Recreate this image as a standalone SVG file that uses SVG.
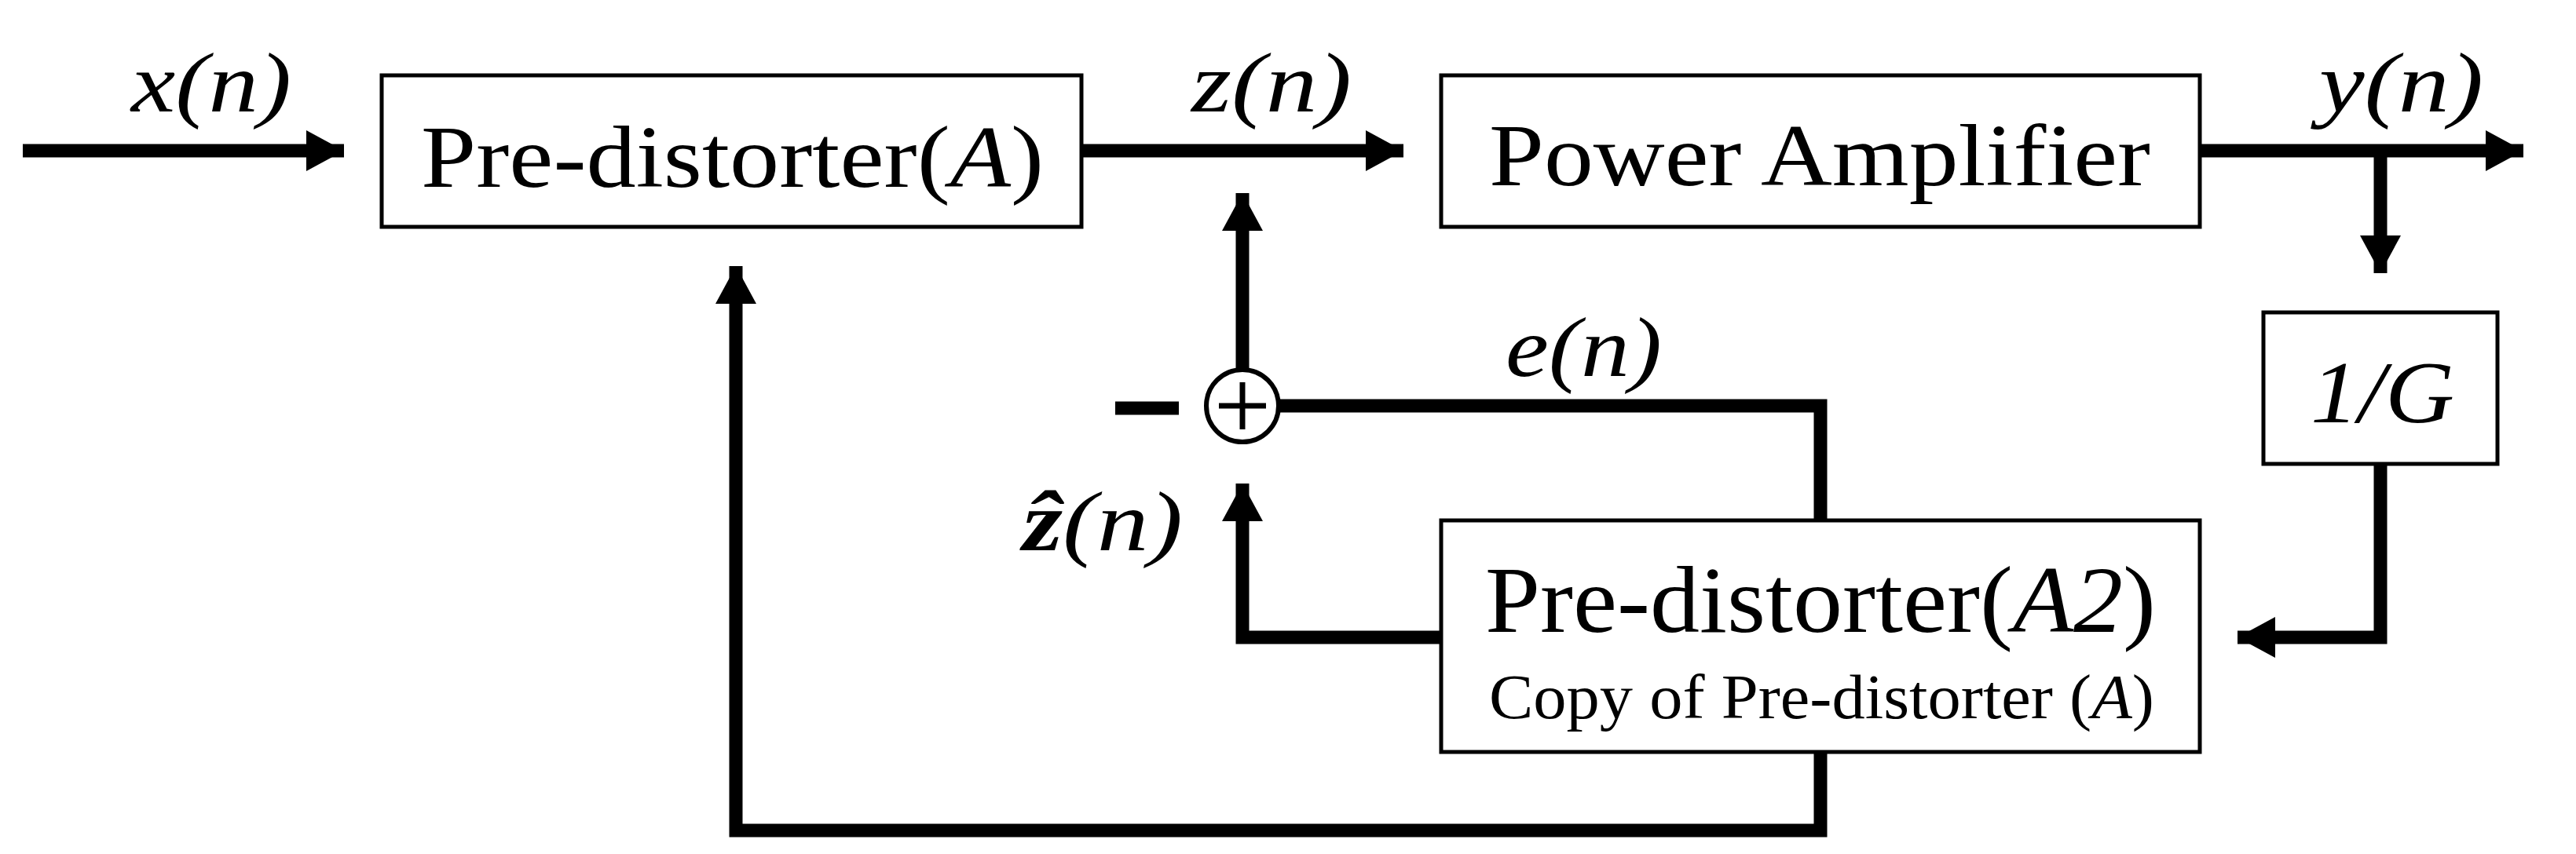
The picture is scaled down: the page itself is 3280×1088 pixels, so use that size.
<svg xmlns="http://www.w3.org/2000/svg" width="3280" height="1088" viewBox="0 0 3280 1088">
<style>
.box{fill:#fff;stroke:#000;stroke-width:5}
.c{fill:none;stroke:#000;stroke-width:17}
.t{font-family:"Liberation Serif","Times New Roman",serif;fill:#000}
.i{font-style:italic}
</style>
<defs>
<marker id="ah" markerUnits="userSpaceOnUse" markerWidth="50" markerHeight="52" refX="48" refY="26" orient="auto"><path d="M0,0 L48,26 L0,52 Z" fill="#000"/></marker>
</defs>
<g id="connectors">
<path class="c" d="M29,192 H438" marker-end="url(#ah)"/>
<path class="c" d="M1377,192 H1787" marker-end="url(#ah)"/>
<path class="c" d="M2801,192 H3213" marker-end="url(#ah)"/>
<path class="c" d="M3031,192 V348" marker-end="url(#ah)"/>
<path class="c" d="M3031,591 V812 H2849" marker-end="url(#ah)"/>
<path class="c" d="M1835,812 H1582 V616" marker-end="url(#ah)"/>
<path class="c" d="M1582,470 V246" marker-end="url(#ah)"/>
<path class="c" d="M2318,663 V517 H1629"/>
<path class="c" d="M2318,958 V1058 H937 V339" marker-end="url(#ah)"/>
<path class="c" d="M1420,520 H1501"/>
</g>
<g id="predistorterA"><rect class="box" x="486" y="96" width="891" height="193"/>
<text class="t" x="536" y="238" font-size="112" textLength="793" lengthAdjust="spacingAndGlyphs">Pre-distorter(<tspan class="i">A</tspan>)</text></g>
<g id="pa"><rect class="box" x="1835" y="96" width="966" height="193"/>
<text class="t" x="1896" y="236" font-size="112" textLength="842" lengthAdjust="spacingAndGlyphs">Power Amplifier</text></g>
<g id="gain"><rect class="box" x="2882" y="398" width="298" height="193"/>
<text class="t i" x="2942" y="538" font-size="112" textLength="183" lengthAdjust="spacingAndGlyphs">1/G</text></g>
<g id="predistorterA2"><rect class="box" x="1835" y="663" width="966" height="295"/>
<text class="t" x="1891" y="805" font-size="120" textLength="854" lengthAdjust="spacingAndGlyphs">Pre-distorter(<tspan class="i">A2</tspan>)</text>
<text class="t" x="1896" y="915" font-size="80" textLength="847" lengthAdjust="spacingAndGlyphs">Copy of Pre-distorter (<tspan class="i">A</tspan>)</text></g>
<g id="sum"><circle cx="1582" cy="517" r="46" fill="#fff" stroke="#000" stroke-width="6"/>
<path d="M1582,487 V547 M1552,517 H1612" stroke="#000" stroke-width="7"/></g>
<g id="labels">
<text class="t i" x="167" y="142" font-size="108" textLength="204" lengthAdjust="spacingAndGlyphs">x(n)</text>
<text class="t i" x="1517" y="142" font-size="108" textLength="204" lengthAdjust="spacingAndGlyphs">z(n)</text>
<text class="t i" x="2953" y="142" font-size="108" textLength="209" lengthAdjust="spacingAndGlyphs">y(n)</text>
<text class="t i" x="1917" y="479" font-size="108" textLength="199" lengthAdjust="spacingAndGlyphs">e(n)</text>
<text class="t" x="1302" y="701" font-size="108" textLength="204" lengthAdjust="spacingAndGlyphs"><tspan font-weight="bold" class="i">ẑ</tspan><tspan class="i">(n)</tspan></text>
</g>
</svg>
